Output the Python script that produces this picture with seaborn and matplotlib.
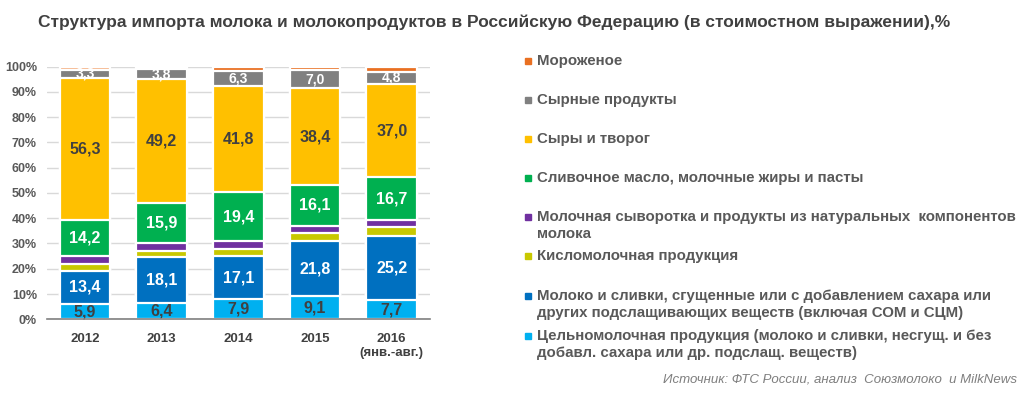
import numpy as np
import pandas as pd
import matplotlib
matplotlib.use("Agg")
import matplotlib.pyplot as plt
import seaborn as sns
from matplotlib.patches import Rectangle

# ---------------- data ----------------
years = ["2012", "2013", "2014", "2015", "2016"]
year_labels = ["2012", "2013", "2014", "2015", "2016\n(янв.-авг.)"]

# bottom -> top
whole_milk = [5.9, 6.4, 7.9, 9.1, 7.7]          # Цельномолочная продукция
cond_milk = [13.4, 18.1, 17.1, 21.8, 25.2]      # Молоко и сливки сгущенные
sour_milk = [2.5, 2.5, 2.7, 3.4, 3.5]           # Кисломолочная продукция
whey = [3.1, 3.0, 3.2, 2.7, 3.0]                # Молочная сыворотка
butter = [14.2, 15.9, 19.4, 16.1, 16.7]         # Сливочное масло
cheese = [56.3, 49.2, 41.8, 38.4, 37.0]         # Сыры и творог
cheese_prod = [3.3, 3.8, 6.3, 7.0, 4.8]         # Сырные продукты
ice_cream = [1.3, 1.1, 1.6, 1.5, 2.1]           # Мороженое

series = [whole_milk, cond_milk, sour_milk, whey, butter, cheese, cheese_prod, ice_cream]
labelled = [True, True, False, False, True, True, True, False]

legend_names = [
    "Мороженое",
    "Сырные продукты",
    "Сыры и творог",
    "Сливочное масло, молочные жиры и пасты",
    "Молочная сыворотка и продукты из натуральных  компонентов\nмолока",
    "Кисломолочная продукция",
    "Молоко и сливки, сгущенные или с добавлением сахара или\nдругих подслащивающих веществ (включая СОМ и СЦМ)",
    "Цельномолочная продукция (молоко и сливки, несгущ. и без\nдобавл. сахара или др. подслащ. веществ)",
]

title = "Структура импорта молока и молокопродуктов в Российскую Федерацию (в стоимостном выражении),%"
source = "Источник: ФТС России, анализ  Союзмолоко  и MilkNews"

# ---------------- style ----------------
colors = ["#00B0F0", "#0070C0", "#C8C800", "#7030A0", "#00B050", "#FFC000", "#808080", "#E97022"]
ice_colors = ["#F4B183", "#F4B183", "#E97022", "#E97022", "#E97022"]
label_colors = ["#404040", "white", None, None, "white", "#404040", "white", None]
label_sizes = [11.5, 11.5, None, None, 11.5, 11.5, 10, None]

sns.set_theme(style="white")
plt.rcParams["font.family"] = ["Liberation Sans", "DejaVu Sans"]

fig = plt.figure(figsize=(10.33, 3.94), dpi=100)
ax = fig.add_axes([0.0452, 0.1896, 0.3711, 0.6416])

arr = np.array(series, dtype=float)
totals = arr.sum(axis=0)
pct = arr / totals * 100.0
cum = np.cumsum(pct, axis=0)

# draw cumulative bars from top layer to bottom layer (overlapping stack)
for i in range(len(series) - 1, -1, -1):
    df = pd.DataFrame({"year": years, "val": cum[i]})
    if i == len(series) - 1:
        sns.barplot(data=df, x="year", y="val", hue="year",
                    palette=dict(zip(years, ice_colors)), legend=False, saturation=1,
                    width=0.66, edgecolor="white", linewidth=1.6, ax=ax, zorder=3)
    else:
        sns.barplot(data=df, x="year", y="val", color=colors[i],
                    width=0.66, edgecolor="white", linewidth=1.6, ax=ax, zorder=3,
                    saturation=1)

# value labels
for i, s in enumerate(series):
    if not labelled[i]:
        continue
    for j in range(len(years)):
        mid = cum[i][j] - pct[i][j] / 2.0
        ax.text(j, mid, f"{s[j]:.1f}".replace(".", ","), ha="center", va="center",
                color=label_colors[i], fontsize=label_sizes[i], fontweight="bold", zorder=5)

ax.set_ylim(0, 100)
ax.set_xlim(-0.5, len(years) - 0.5)
ax.set_yticks(np.arange(0, 101, 10))
ax.set_yticklabels([f"{v}%" for v in range(0, 101, 10)])
ax.set_xticks(range(len(years)))
ax.set_xticklabels(year_labels)
ax.set_xlabel("")
ax.set_ylabel("")
ax.yaxis.grid(True, color="#D9D9D9", linewidth=1.0, zorder=0)
ax.set_axisbelow(True)
for sp in ["left", "right", "top"]:
    ax.spines[sp].set_visible(False)
ax.spines["bottom"].set_color("#808080")
ax.spines["bottom"].set_linewidth(1.2)
ax.spines["bottom"].set_zorder(6)
ax.tick_params(axis="y", length=0, pad=7, labelsize=9, labelcolor="#595959")
ax.tick_params(axis="x", length=0, pad=10, labelsize=9.5, labelcolor="#404040")
for t in ax.get_yticklabels() + ax.get_xticklabels():
    t.set_fontweight("bold")
# minor ticks between categories on x axis
ax.set_xticks(np.arange(-0.5, len(years), 1.0), minor=True)
ax.tick_params(axis="x", which="minor", length=5, width=1.2, color="#808080", direction="out")

# title
fig.text(38 / 1033, 1 - 22 / 394, title, ha="left", va="center",
         fontsize=12.5, fontweight="bold", color="#404040")

# legend (top item corresponds to top stack layer)
leg_y = [61, 100, 139, 178, 217, 256, 296, 336]
leg_colors = colors[::-1]
for name, yy, c in zip(legend_names, leg_y, leg_colors):
    fig.patches.append(Rectangle((525 / 1033, 1 - (yy + 3) / 394), 6 / 1033, 6 / 394,
                                 transform=fig.transFigure, color=c, figure=fig))
    for k, line in enumerate(name.split("\n")):
        fig.text(537 / 1033, 1 - (yy + 17 * k) / 394, line, ha="left", va="center",
                 fontsize=10.8, fontweight="bold", color="#595959")

fig.text(1017 / 1033, 1 - 380 / 394, source, ha="right", va="center",
         fontsize=9.5, style="italic", color="#7F7F7F")

fig.savefig("out.png", dpi=100)
